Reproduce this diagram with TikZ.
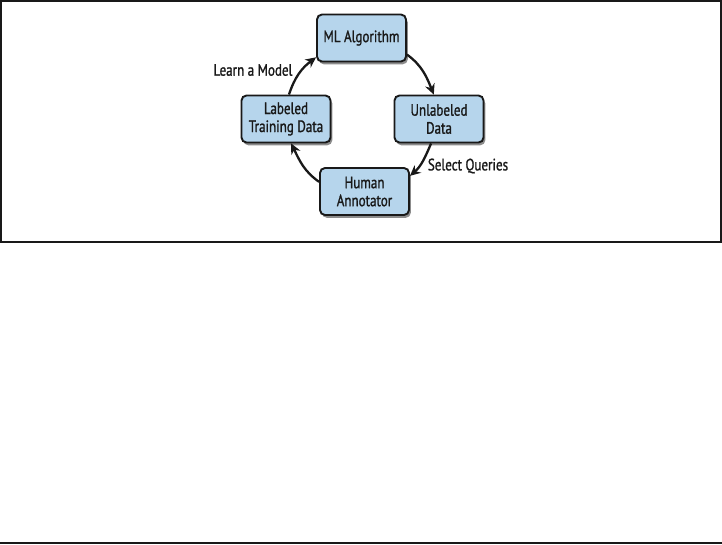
\documentclass[tikz,border=0pt]{standalone}
\usepackage{fontspec}
\setmainfont{PT Sans}[FakeStretch=0.79, FakeBold=1.2]
\usetikzlibrary{arrows.meta,shadows}
\definecolor{boxblue}{RGB}{182,213,236}
\definecolor{ink}{RGB}{25,25,25}
\tikzset{
  stepbox/.style={draw=ink, line width=1.9pt, fill=boxblue, rounded corners=5pt,
    minimum width=89pt, minimum height=47pt, inner sep=1pt, align=center,
    text=ink, font=\fontsize{16.5}{18}\selectfont,
    drop shadow={shadow xshift=1.8pt, shadow yshift=-2.8pt, fill=black, opacity=0.45}},
  cyc/.style={draw=ink, line width=2.3pt, -{Stealth[length=10.5pt,width=10pt]}},
  lbl/.style={text=ink, font=\fontsize{16.5}{18}\selectfont, inner sep=0pt},
  frame/.style={draw=ink, line width=1.5pt}
}
\begin{document}
\begin{tikzpicture}[x=1pt,y=1pt]
\useasboundingbox (0,0) rectangle (722,-544);
\fill[white] (0,0) rectangle (722,-544);
\draw[frame] (1.2,-1.2) rectangle (720.8,-242);
\draw[frame] (0,-543) -- (722,-543);

\node[stepbox] (ml)  at (361.5,-38)  {ML Algorithm};
\node[stepbox] (lab) at (286,-119)   {Labeled\\Training Data};
\node[stepbox] (unl) at (439,-119)   {Unlabeled\\Data};
\node[stepbox] (hum) at (364.5,-191.5) {Human\\Annotator};

\node[lbl] (learn)  at (253,-70)  {Learn a Model};
\node[lbl] (select) at (468,-166) {Select Queries};

\draw[cyc] (lab.83)  to[out=72,  in=217] (ml.203);
\draw[cyc] (ml.-20)  to[out=-36, in=112] (unl.102);
\draw[cyc] (unl.252) to[out=-113,in=41]  (hum.19);
\draw[cyc] (hum.168) to[out=145, in=296] (lab.282);
\end{tikzpicture}
\end{document}
